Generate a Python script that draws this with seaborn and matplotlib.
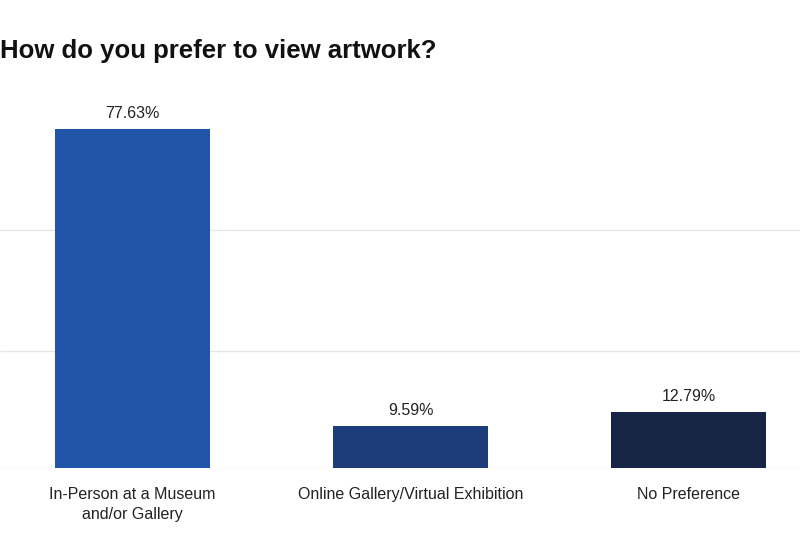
import matplotlib
matplotlib.use("Agg")
import matplotlib.pyplot as plt
import seaborn as sns
import pandas as pd

categories = ["In-Person at a Museum\nand/or Gallery", "Online Gallery/Virtual Exhibition", "No Preference"]
values = [77.63, 9.59, 12.79]
labels = ["77.63%", "9.59%", "12.79%"]
colors = ["#2055AA", "#1D3C7A", "#172544"]
title = "How do you prefer to view artwork?"

sns.set_theme(style="white")
plt.rcParams["font.family"] = ["Liberation Sans", "DejaVu Sans"]

df = pd.DataFrame({"cat": categories, "val": values})

fig = plt.figure(figsize=(8, 5.33), dpi=100)
ax = fig.add_axes([0, 65 / 533, 1, (468 - 110) / 533])

sns.barplot(data=df, x="cat", y="val", hue="cat", palette=colors, legend=False,
            width=0.557, saturation=1, linewidth=0, ax=ax, zorder=3)

ax.set_xlim(-0.476, 2.399)
ax.set_ylim(0, 358 / 4.367)
ax.set_yticks([0, 26.8, 54.5])
ax.yaxis.grid(True, color="#E6E6E6", linewidth=1)
ax.set_yticklabels([])
ax.tick_params(axis="y", length=0)
ax.tick_params(axis="x", length=0, pad=13.5, labelsize=11.5, labelcolor="#222222")
for t in ax.get_xticklabels():
    t.set_linespacing(1.4)
for s in ax.spines.values():
    s.set_visible(False)
ax.set_xlabel("")
ax.set_ylabel("")

for i, (v, lab) in enumerate(zip(values, labels)):
    ax.annotate(lab, (i, v), xytext=(0, 6), textcoords="offset points",
                ha="center", va="bottom", fontsize=11.5, color="#222222")

fig.text(0.0, 1 - 58 / 533, title, fontsize=18.5, fontweight="bold",
         color="#111111", ha="left", va="baseline")

fig.savefig("out.png", dpi=100)
